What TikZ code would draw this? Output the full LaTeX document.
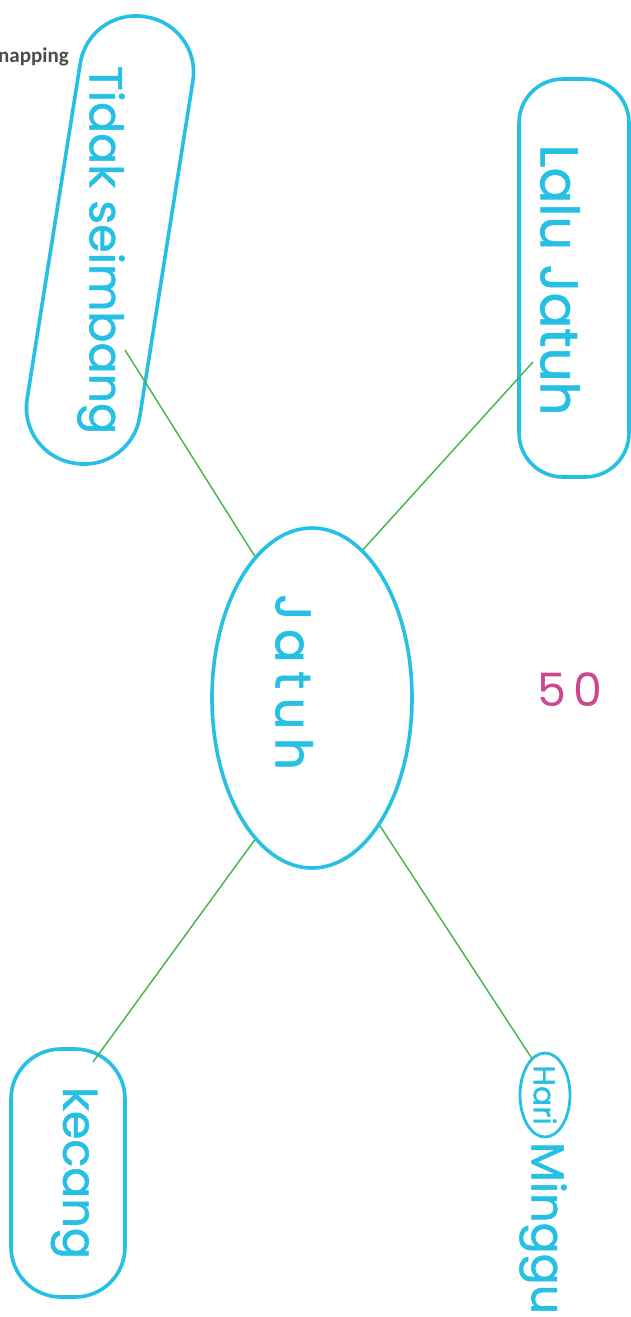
\documentclass[tikz,border=0pt]{standalone}
\usepackage{fontspec}
\setmainfont{Poppins}
\newfontfamily\penfont{Poppins}[FakeBold=1.2]
\newfontfamily\thinfont{Poppins}
\newfontfamily\labelfont{Carlito}
\usetikzlibrary{shapes.geometric}
\definecolor{penblue}{RGB}{38,192,228}
\definecolor{pengreen}{RGB}{62,182,72}
\definecolor{penpink}{RGB}{204,72,142}
\tikzset{
  bubble/.style={ellipse, draw=penblue, line width=3.6pt, inner sep=0pt},
  pill/.style={rectangle, draw=penblue, line width=3.6pt, inner sep=0pt, rounded corners=#1},
  penlabel/.style={text=penblue, font=\penfont, inner sep=0pt},
  branch/.style={draw=pengreen, line width=1.4pt}
}
\begin{document}
\begin{tikzpicture}[x=1pt, y=-1pt]
  \useasboundingbox[fill=white] (0,0) rectangle (631,1317);

  % judul yang terpotong
  \node[anchor=west, inner sep=0pt] (title) at (-2,57) {\labelfont\bfseries\fontsize{21}{24}\selectfont\color{black!70}napping};

  % gelembung utama
  \node[bubble, minimum width=200pt, minimum height=340pt,
    label={[penlabel, xshift=-18pt, yshift=16pt]center:\rotatebox{-90}{\fontsize{50}{56}\selectfont J\,a\,t\,u\,h}}] (jatuh) at (312,698) {};

  % gelembung cabang
  \node[pill=56pt, rotate=-9, minimum width=114pt, minimum height=452pt,
    label={[penlabel, xshift=-9pt, yshift=-10pt]center:\rotatebox{-90}{\fontsize{46}{52}\selectfont Tidak seimbang}}] (tidak) at (110,240) {};
  \node[pill=44pt, minimum width=110pt, minimum height=398pt,
    label={[penlabel, xshift=-14pt, yshift=-2pt]center:\rotatebox{-90}{\fontsize{53}{58}\selectfont Lalu Jatuh}}] (lalu) at (574,278) {};
  \node[pill=50pt, minimum width=114pt, minimum height=248pt,
    label={[penlabel, xshift=6pt]center:\rotatebox{-90}{\fontsize{46}{52}\selectfont kecang}}] (kecang) at (68,1173) {};
  \node[bubble, line width=2.8pt, minimum width=50pt, minimum height=84pt,
    label={[penlabel]center:\rotatebox{-90}{\fontsize{30}{34}\selectfont Hari}}] (hari) at (545,1095) {};
  \node[penlabel, anchor=north] (minggu) at (543,1142)
    {\rotatebox{-90}{\fontsize{46}{52}\selectfont Minggu}};

  % nilai
  \node[text=penpink, font=\thinfont] (nilai) at (570,690) {\fontsize{46}{50}\selectfont 5\,0};

  % garis hijau
  \coordinate (tidakend) at (125,350);
  \coordinate (laluend) at (533,362);
  \coordinate (kecangend) at (93,1062);
  \draw[branch] (tidakend) -- (jatuh.112.7);
  \draw[branch] (laluend) -- (jatuh.71.6);
  \draw[branch] (jatuh.248.8) -- (kecangend);
  \draw[branch] (jatuh.298) -- (hari.110);
\end{tikzpicture}
\end{document}
